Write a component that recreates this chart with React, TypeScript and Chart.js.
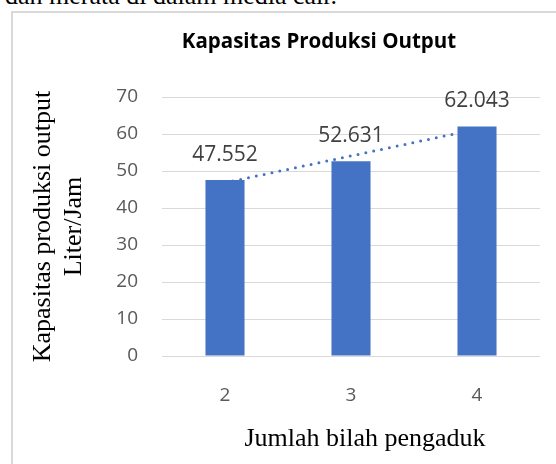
import React, { useEffect, useRef } from "react";
import { Chart, registerables } from "chart.js";

Chart.register(...registerables);

// ---- data ----
const categories = ["2", "3", "4"];
const capacity = [47.552, 52.631, 62.043];
const yMin = 0;
const yMax = 70;
const yStep = 10;
const chartTitle = "Kapasitas Produksi Output";
const xTitle = "Jumlah bilah pengaduk";
const yTitle = ["Kapasitas produksi output", "Liter/Jam"];
const pageText = "dan merata di dalam media cair.";

// linear (least squares) trendline over x = 1..n, as Excel does
function linearTrend(values: number[]): number[] {
  const n = values.length;
  const xs = values.map((_, i) => i + 1);
  const mx = xs.reduce((a, b) => a + b, 0) / n;
  const my = values.reduce((a, b) => a + b, 0) / n;
  let num = 0;
  let den = 0;
  xs.forEach((x, i) => {
    num += (x - mx) * (values[i] - my);
    den += (x - mx) * (x - mx);
  });
  const slope = num / den;
  const icpt = my - slope * mx;
  return xs.map((x) => icpt + slope * x);
}

const SANS = '"Open Sans", "Liberation Sans", sans-serif';
const SERIF = '"Liberation Serif", "DejaVu Serif", serif';

const overlayPlugin = {
  id: "overlayTexts",
  afterDatasetsDraw(chart: any) {
    const { ctx, chartArea } = chart;
    const meta = chart.getDatasetMeta(0);
    ctx.save();
    ctx.textAlign = "center";
    ctx.textBaseline = "middle";
    ctx.font = `21px ${SANS}`;
    ctx.fillStyle = "#404040";
    meta.data.forEach((el: any, i: number) => {
      ctx.fillText(capacity[i].toFixed(3), el.x, el.y - 25);
    });
    const cx = (chartArea.left + chartArea.right) / 2;
    ctx.fillStyle = "#000000";
    ctx.font = `bold 20.5px ${SANS}`;
    ctx.fillText(chartTitle, cx - 32, chartArea.top - 55);
    ctx.font = `26px ${SERIF}`;
    ctx.fillText(xTitle, cx + 14, chartArea.bottom + 83);
    ctx.restore();
  },
};

function ChartView() {
  const ref = useRef<HTMLCanvasElement | null>(null);
  useEffect(() => {
    if (!ref.current) return;
    const trend = linearTrend(capacity);
    const chart = new Chart(ref.current, {
      data: {
        labels: categories,
        datasets: [
          {
            type: "bar",
            data: capacity,
            backgroundColor: "#4472C4",
            borderWidth: 0,
            barPercentage: 0.31,
            categoryPercentage: 1,
            order: 0,
          } as any,
          {
            type: "line",
            data: trend,
            borderColor: "#4472C4",
            borderWidth: 3,
            borderDash: [0, 8],
            borderCapStyle: "round",
            pointRadius: 0,
            fill: false,
            tension: 0,
            order: 1,
          } as any,
        ],
      },
      options: {
        responsive: false,
        animation: false,
        layout: { padding: { top: 84, right: 16, bottom: 0, left: 0 } },
        plugins: {
          legend: { display: false },
          tooltip: { enabled: false },
          title: { display: false },
        },
        scales: {
          x: {
            grid: { display: false },
            border: { display: false },
            ticks: {
              color: "#595959",
              font: { family: SANS, size: 19 },
              padding: 20,
            },
            afterFit(s: any) {
              s.height = 108;
            },
          },
          y: {
            min: yMin,
            max: yMax,
            ticks: {
              stepSize: yStep,
              color: "#595959",
              font: { family: SANS, size: 19 },
              padding: 24,
            },
            grid: { color: "#d9d9d9", lineWidth: 1, drawTicks: false },
            border: { display: false },
            title: {
              display: true,
              text: yTitle,
              color: "#000000",
              font: { family: SERIF, size: 26, lineHeight: 1.19 },
              padding: { top: 14.5, bottom: 0 },
            },
            afterFit(s: any) {
              s.width = 149;
            },
          },
        },
      } as any,
      plugins: [overlayPlugin],
    });
    return () => chart.destroy();
  }, []);
  return <canvas ref={ref} width={543} height={451} style={{ display: "block" }} />;
}

export default function App() {
  return (
    <div
      style={{
        position: "fixed",
        left: 0,
        top: 0,
        width: 556,
        height: 464,
        overflow: "hidden",
        background: "#ffffff",
      }}
    >
      <div
        style={{
          position: "absolute",
          left: 5,
          top: -17,
          fontFamily: SERIF,
          fontSize: 26,
          lineHeight: "26px",
          whiteSpace: "nowrap",
          color: "#000",
        }}
      >
        {pageText}
      </div>
      <div
        style={{
          position: "absolute",
          left: 11,
          top: 11,
          width: 600,
          height: 500,
          borderLeft: "2px solid #d9d9d9",
          borderTop: "2px solid #d9d9d9",
        }}
      />
      <div style={{ position: "absolute", left: 13, top: 13, width: 543, height: 451 }}>
        <ChartView />
      </div>
    </div>
  );
}
